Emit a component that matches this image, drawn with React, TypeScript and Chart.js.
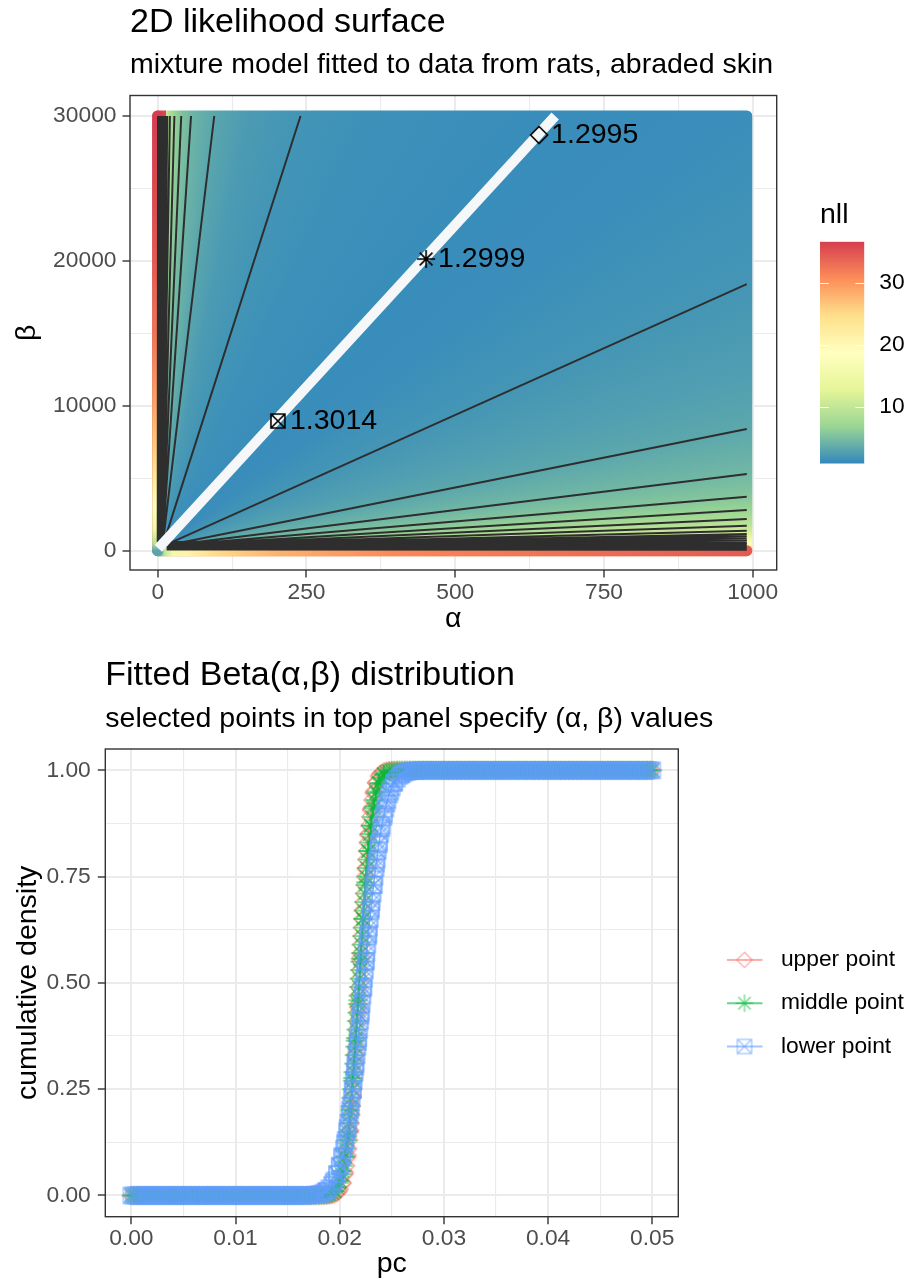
import React, { useEffect, useRef } from "react";
import { Chart, registerables } from "chart.js";

Chart.register(...registerables);

const FONT = '"Liberation Sans", Arial, Helvetica, sans-serif';
Chart.defaults.font.family = FONT;

// ---------------- texts ----------------
const topTitle = "2D likelihood surface";
const topSubtitle = "mixture model fitted to data from rats, abraded skin";
const bottomTitle = "Fitted Beta(α,β) distribution";
const bottomSubtitle = "selected points in top panel specify (α, β) values";

// ---------------- top panel data ----------------
const alphaTicks = [0, 250, 500, 750, 1000];
const alphaMinorTicks = [125, 375, 625, 875];
const betaTicks = [0, 10000, 20000, 30000];
const betaMinorTicks = [5000, 15000, 25000];
const alphaLimits = [-46.6, 1040.3];
const betaLimits = [-1332, 31415];

// extent of the evaluated (alpha, beta) grid
const gridAlpha = [0, 990];
const gridBeta = [0, 30000];

// nll read along rays from the origin (ratio beta / alpha)
const rayRatio = [100000, 30000, 10000, 5000, 3000, 2000, 1400, 1000, 750, 530, 316, 200, 125, 80, 45, 30, 18.4, 12, 8.4, 5.3, 3.7, 2.8, 2.2, 1.74, 1.39, 1.16, 1.0, 0.75, 0.535, 0.38, 0.27, 0.17, 0.1, 0.05];
const rayNll = [36, 30, 22, 16, 12.5, 10, 8, 6.5, 5.4, 4.3, 3.1, 2.3, 1.8, 1.4, 1.2, 1.3, 1.9, 2.6, 3.3, 4.5, 5.7, 7, 8.3, 9.6, 10.9, 12.1, 13.2, 15.6, 18, 20.5, 22.9, 25.3, 27.7, 30];

// nll along the alpha = 0 edge and along the beta = 0 edge
const leftEdgeBeta = [0, 500, 1500, 3000, 5000, 7000, 10000, 15000, 20000, 25000, 30000];
const leftEdgeNll = [3, 9, 15, 19, 23, 26, 29, 32.5, 34.5, 35.8, 36.6];
const bottomEdgeAlpha = [0, 5, 12, 25, 50, 100, 200, 400, 700, 990];
const bottomEdgeNll = [2, 5, 10, 16, 21, 25, 28, 31, 33, 34.5];

// contour lines
const contourHub = [8, 300];
const upperContourEndAlpha = [240, 95, 56, 39.5, 28, 20.5];
const lowerContourEndBeta = [18400, 8400, 5290, 3730, 2810, 2190, 1725, 1380, 1150];
const leftBandBeta = [600, 30000];
const leftBandStartAlpha = [9, 8.2, 7.4, 6.6, 5.8, 5, 4.2, 3.4, 2.6, 1.8, 1, 0.5, 0];
const leftBandEndAlpha = [16, 13.5, 11.5, 9.8, 8.3, 7, 5.8, 4.8, 3.9, 3, 2.1, 1.2, 0.5];
const bottomBandAlpha = [15, 990];
const bottomBandStartBeta = [600, 560, 520, 480, 440, 400, 360, 320, 280, 240, 200, 160, 120, 80];
const bottomBandEndBeta = [1000, 860, 740, 630, 530, 450, 380, 320, 265, 215, 170, 130, 95, 60];

// ridge of the surface
const ridgeAlpha = [1, 668];
const ridgeBeta = [166, 30000];

// selected points
const pickAlpha = [641, 451, 202];
const pickBeta = [28690, 20130, 8950];
const pickLabel = ["1.2995", "1.2999", "1.3014"];

// colour scale
const nllPalette = ["#3288BD", "#99D594", "#E6F598", "#FFFFBF", "#FEE08B", "#FC8D59", "#D53E4F"];
const nllLimits = [0.8, 36.6];
const nllTicks = [10, 20, 30];

// ---------------- bottom panel data ----------------
const pcTicks = [0, 0.01, 0.02, 0.03, 0.04, 0.05];
const pcMinorTicks = [0.005, 0.015, 0.025, 0.035, 0.045];
const cdfTicks = [0, 0.25, 0.5, 0.75, 1];
const cdfMinorTicks = [0.125, 0.375, 0.625, 0.875];
const pcLimits = [-0.0025, 0.0525];
const cdfLimits = [-0.05, 1.05];

const seriesNames = ["upper point", "middle point", "lower point"];

const pcGrid = [
  0, 0.00025, 0.0005, 0.00075, 0.001, 0.00125, 0.0015, 0.00175,
  0.002, 0.00225, 0.0025, 0.00275, 0.003, 0.00325, 0.0035, 0.00375,
  0.004, 0.00425, 0.0045, 0.00475, 0.005, 0.00525, 0.0055, 0.00575,
  0.006, 0.00625, 0.0065, 0.00675, 0.007, 0.00725, 0.0075, 0.00775,
  0.008, 0.00825, 0.0085, 0.00875, 0.009, 0.00925, 0.0095, 0.00975,
  0.01, 0.01025, 0.0105, 0.01075, 0.011, 0.01125, 0.0115, 0.01175,
  0.012, 0.01225, 0.0125, 0.01275, 0.013, 0.01325, 0.0135, 0.01375,
  0.014, 0.01425, 0.0145, 0.01475, 0.015, 0.01525, 0.0155, 0.01575,
  0.016, 0.01625, 0.0165, 0.01675, 0.017, 0.01725, 0.0175, 0.01775,
  0.018, 0.01825, 0.0185, 0.01875, 0.019, 0.01925, 0.0195, 0.01975,
  0.02, 0.02025, 0.0205, 0.02075, 0.021, 0.02125, 0.0215, 0.02175,
  0.022, 0.02225, 0.0225, 0.02275, 0.023, 0.02325, 0.0235, 0.02375,
  0.024, 0.02425, 0.0245, 0.02475, 0.025, 0.02525, 0.0255, 0.02575,
  0.026, 0.02625, 0.0265, 0.02675, 0.027, 0.02725, 0.0275, 0.02775,
  0.028, 0.02825, 0.0285, 0.02875, 0.029, 0.02925, 0.0295, 0.02975,
  0.03, 0.03025, 0.0305, 0.03075, 0.031, 0.03125, 0.0315, 0.03175,
  0.032, 0.03225, 0.0325, 0.03275, 0.033, 0.03325, 0.0335, 0.03375,
  0.034, 0.03425, 0.0345, 0.03475, 0.035, 0.03525, 0.0355, 0.03575,
  0.036, 0.03625, 0.0365, 0.03675, 0.037, 0.03725, 0.0375, 0.03775,
  0.038, 0.03825, 0.0385, 0.03875, 0.039, 0.03925, 0.0395, 0.03975,
  0.04, 0.04025, 0.0405, 0.04075, 0.041, 0.04125, 0.0415, 0.04175,
  0.042, 0.04225, 0.0425, 0.04275, 0.043, 0.04325, 0.0435, 0.04375,
  0.044, 0.04425, 0.0445, 0.04475, 0.045, 0.04525, 0.0455, 0.04575,
  0.046, 0.04625, 0.0465, 0.04675, 0.047, 0.04725, 0.0475, 0.04775,
  0.048, 0.04825, 0.0485, 0.04875, 0.049, 0.04925, 0.0495, 0.04975,
  0.05,
];

const upperCdf = [
  0, 0, 0, 0, 0, 0, 0, 0,
  0, 0, 0, 0, 0, 0, 0, 0,
  0, 0, 0, 0, 0, 0, 0, 0,
  0, 0, 0, 0, 0, 0, 0, 0,
  0, 0, 0, 0, 0, 0, 0, 0,
  0, 0, 0, 0, 0, 0, 0, 0,
  0, 0, 0, 0, 0, 0, 0, 0,
  0, 0, 0, 0, 0, 0, 0, 0,
  0, 0, 0, 0, 0, 0, 0, 0,
  0, 0, 0, 0, 0.0004, 0.0011, 0.0028, 0.0065,
  0.0142, 0.0288, 0.0541, 0.0946, 0.1536, 0.2331, 0.3314, 0.4428,
  0.5592, 0.6704, 0.7683, 0.8475, 0.9063, 0.9464, 0.9715, 0.9859,
  0.9936, 0.9973, 0.9989, 0.9996, 1, 1, 1, 1,
  1, 1, 1, 1, 1, 1, 1, 1,
  1, 1, 1, 1, 1, 1, 1, 1,
  1, 1, 1, 1, 1, 1, 1, 1,
  1, 1, 1, 1, 1, 1, 1, 1,
  1, 1, 1, 1, 1, 1, 1, 1,
  1, 1, 1, 1, 1, 1, 1, 1,
  1, 1, 1, 1, 1, 1, 1, 1,
  1, 1, 1, 1, 1, 1, 1, 1,
  1, 1, 1, 1, 1, 1, 1, 1,
  1, 1, 1, 1, 1, 1, 1, 1,
  1, 1, 1, 1, 1, 1, 1, 1,
  1, 1, 1, 1, 1, 1, 1, 1,
  1,
];

const middleCdf = [
  0, 0, 0, 0, 0, 0, 0, 0,
  0, 0, 0, 0, 0, 0, 0, 0,
  0, 0, 0, 0, 0, 0, 0, 0,
  0, 0, 0, 0, 0, 0, 0, 0,
  0, 0, 0, 0, 0, 0, 0, 0,
  0, 0, 0, 0, 0, 0, 0, 0,
  0, 0, 0, 0, 0, 0, 0, 0,
  0, 0, 0, 0, 0, 0, 0, 0,
  0, 0, 0, 0, 0, 0, 0, 0,
  0, 0.0002, 0.0005, 0.0012, 0.0025, 0.0053, 0.0104, 0.0194,
  0.0344, 0.0576, 0.0918, 0.1392, 0.2007, 0.2763, 0.3639, 0.459,
  0.5565, 0.651, 0.7366, 0.8101, 0.8695, 0.9145, 0.9468, 0.9686,
  0.9824, 0.9906, 0.9953, 0.9978, 0.999, 0.9996, 0.9998, 1,
  1, 1, 1, 1, 1, 1, 1, 1,
  1, 1, 1, 1, 1, 1, 1, 1,
  1, 1, 1, 1, 1, 1, 1, 1,
  1, 1, 1, 1, 1, 1, 1, 1,
  1, 1, 1, 1, 1, 1, 1, 1,
  1, 1, 1, 1, 1, 1, 1, 1,
  1, 1, 1, 1, 1, 1, 1, 1,
  1, 1, 1, 1, 1, 1, 1, 1,
  1, 1, 1, 1, 1, 1, 1, 1,
  1, 1, 1, 1, 1, 1, 1, 1,
  1, 1, 1, 1, 1, 1, 1, 1,
  1, 1, 1, 1, 1, 1, 1, 1,
  1,
];

const lowerCdf = [
  0, 0, 0, 0, 0, 0, 0, 0,
  0, 0, 0, 0, 0, 0, 0, 0,
  0, 0, 0, 0, 0, 0, 0, 0,
  0, 0, 0, 0, 0, 0, 0, 0,
  0, 0, 0, 0, 0, 0, 0, 0,
  0, 0, 0, 0, 0, 0, 0, 0,
  0, 0, 0, 0, 0, 0, 0, 0,
  0, 0, 0, 0, 0, 0, 0, 0,
  0, 0, 0, 0.0002, 0.0003, 0.0006, 0.001, 0.0016,
  0.0027, 0.0044, 0.007, 0.0109, 0.0165, 0.0244, 0.0352, 0.0498,
  0.0686, 0.0927, 0.1224, 0.1584, 0.2005, 0.2488, 0.3026, 0.3613,
  0.4231, 0.4872, 0.5513, 0.6145, 0.6744, 0.7304, 0.7808, 0.8256,
  0.8639, 0.8962, 0.9224, 0.9433, 0.9594, 0.9717, 0.9806, 0.9871,
  0.9916, 0.9946, 0.9967, 0.998, 0.9988, 0.9993, 0.9996, 0.9998,
  1, 1, 1, 1, 1, 1, 1, 1,
  1, 1, 1, 1, 1, 1, 1, 1,
  1, 1, 1, 1, 1, 1, 1, 1,
  1, 1, 1, 1, 1, 1, 1, 1,
  1, 1, 1, 1, 1, 1, 1, 1,
  1, 1, 1, 1, 1, 1, 1, 1,
  1, 1, 1, 1, 1, 1, 1, 1,
  1, 1, 1, 1, 1, 1, 1, 1,
  1, 1, 1, 1, 1, 1, 1, 1,
  1, 1, 1, 1, 1, 1, 1, 1,
  1, 1, 1, 1, 1, 1, 1, 1,
  1,
];

// extra points on the steep part: probability levels and the pc where each curve reaches them
const probLevels = [
  0.01, 0.03, 0.05, 0.07, 0.09, 0.11, 0.13, 0.15, 0.17, 0.19,
  0.21, 0.23, 0.25, 0.27, 0.29, 0.31, 0.33, 0.35, 0.37, 0.39,
  0.41, 0.43, 0.45, 0.47, 0.49,
  0.51, 0.53, 0.55, 0.57, 0.59, 0.61, 0.63, 0.65, 0.67, 0.69,
  0.71, 0.73, 0.75, 0.77, 0.79, 0.81, 0.83, 0.85, 0.87, 0.89,
  0.91, 0.93, 0.95, 0.97, 0.99,
];
const upperQuantile = [
  0.01988, 0.02027, 0.02047, 0.02061, 0.02073, 0.02082, 0.02091, 0.02099, 0.02106, 0.02112,
  0.02118, 0.02124, 0.0213, 0.02135, 0.0214, 0.02145, 0.0215, 0.02154, 0.02159, 0.02163,
  0.02168, 0.02172, 0.02177, 0.02181, 0.02185,
  0.0219, 0.02194, 0.02198, 0.02202, 0.02207, 0.02211, 0.02216, 0.0222, 0.02225, 0.0223,
  0.02235, 0.0224, 0.02245, 0.02251, 0.02256, 0.02262, 0.02269, 0.02276, 0.02284, 0.02292,
  0.02302, 0.02314, 0.02328, 0.02348, 0.02386,
];
const middleQuantile = [
  0.01948, 0.01994, 0.02018, 0.02035, 0.02049, 0.02061, 0.02071, 0.0208, 0.02088, 0.02096,
  0.02103, 0.0211, 0.02117, 0.02123, 0.02129, 0.02135, 0.02141, 0.02146, 0.02152, 0.02157,
  0.02162, 0.02168, 0.02173, 0.02178, 0.02183,
  0.02188, 0.02193, 0.02198, 0.02203, 0.02209, 0.02214, 0.02219, 0.02225, 0.0223, 0.02236,
  0.02242, 0.02248, 0.02254, 0.02261, 0.02268, 0.02275, 0.02283, 0.02291, 0.023, 0.0231,
  0.02322, 0.02336, 0.02353, 0.02377, 0.02423,
];
const lowerQuantile = [
  0.0187, 0.01939, 0.01975, 0.02002, 0.02022, 0.0204, 0.02056, 0.0207, 0.02082, 0.02094,
  0.02105, 0.02116, 0.02126, 0.02135, 0.02144, 0.02153, 0.02162, 0.0217, 0.02179, 0.02187,
  0.02195, 0.02203, 0.02211, 0.02218, 0.02226,
  0.02234, 0.02242, 0.02249, 0.02257, 0.02265, 0.02273, 0.02281, 0.0229, 0.02298, 0.02307,
  0.02316, 0.02325, 0.02334, 0.02344, 0.02355, 0.02366, 0.02378, 0.0239, 0.02404, 0.0242,
  0.02438, 0.02458, 0.02485, 0.02521, 0.0259,
];

// ---------------- styles ----------------
const SERIES_RGB = ["248,118,109", "0,186,56", "97,156,255"];
const SERIES_MARKER = ["diamond", "star", "box"];
const SERIES_R = [8.5, 9.6, 8];
const TICK_FONT = { size: 22.8, lineHeight: 1 };
const AXIS_TITLE_FONT = { size: 28.5, lineHeight: 1.2 };

// ---------------- helpers ----------------
function rgbOf(hex: string) {
  const n = parseInt(hex.slice(1), 16);
  return [(n >> 16) & 255, (n >> 8) & 255, n & 255];
}
function nllColor(v: number) {
  const [lo, hi] = nllLimits;
  let t = (v - lo) / (hi - lo);
  t = Math.max(0, Math.min(1, t));
  const seg = t * (nllPalette.length - 1);
  const i = Math.min(Math.floor(seg), nllPalette.length - 2);
  const f = seg - i;
  const a = rgbOf(nllPalette[i]);
  const b = rgbOf(nllPalette[i + 1]);
  const c = a.map((v0, k) => Math.round(v0 + (b[k] - v0) * f));
  return `rgb(${c[0]},${c[1]},${c[2]})`;
}
const isIn = (list: number[], v: number) => list.indexOf(v) >= 0;

function strokeMarker(ctx: CanvasRenderingContext2D, kind: string, cx: number, cy: number, r: number) {
  ctx.beginPath();
  if (kind === "diamond") {
    ctx.moveTo(cx, cy - r);
    ctx.lineTo(cx + r, cy);
    ctx.lineTo(cx, cy + r);
    ctx.lineTo(cx - r, cy);
    ctx.closePath();
  } else if (kind === "star") {
    const d = r * Math.SQRT1_2;
    ctx.moveTo(cx - r, cy); ctx.lineTo(cx + r, cy);
    ctx.moveTo(cx, cy - r); ctx.lineTo(cx, cy + r);
    ctx.moveTo(cx - d, cy - d); ctx.lineTo(cx + d, cy + d);
    ctx.moveTo(cx - d, cy + d); ctx.lineTo(cx + d, cy - d);
  } else {
    ctx.rect(cx - r, cy - r, 2 * r, 2 * r);
    ctx.moveTo(cx - r, cy - r); ctx.lineTo(cx + r, cy + r);
    ctx.moveTo(cx - r, cy + r); ctx.lineTo(cx + r, cy - r);
  }
  ctx.stroke();
}
function markerImage(kind: string, color: string, r: number, lw: number) {
  const half = Math.ceil(r + lw + 1);
  const cv = document.createElement("canvas");
  cv.width = half * 2;
  cv.height = half * 2;
  const ctx = cv.getContext("2d") as CanvasRenderingContext2D;
  ctx.strokeStyle = color;
  ctx.lineWidth = lw;
  strokeMarker(ctx, kind, half, half, r);
  return cv;
}
function legendKeyImage(kind: string, markerColor: string, lineColor: string, r: number, width: number, lineLen: number) {
  const h = 24;
  const cv = document.createElement("canvas");
  cv.width = width;
  cv.height = h;
  const ctx = cv.getContext("2d") as CanvasRenderingContext2D;
  ctx.strokeStyle = lineColor;
  ctx.lineWidth = 2;
  ctx.beginPath();
  ctx.moveTo(0, h / 2);
  ctx.lineTo(lineLen, h / 2);
  ctx.stroke();
  ctx.strokeStyle = markerColor;
  ctx.lineWidth = 1.3;
  strokeMarker(ctx, kind, lineLen / 2, h / 2, r);
  return cv;
}

function tickSetter(major: number[], minor: number[]) {
  return (s: any) => {
    s.ticks = [...major, ...minor].sort((a, b) => a - b).map((value) => ({ value }));
  };
}
function gridFor(major: number[]) {
  return {
    color: "#EBEBEB",
    lineWidth: (c: any) => (c.tick && isIn(major, c.tick.value) ? 2 : 1.1),
    tickColor: (c: any) => (c.tick && isIn(major, c.tick.value) ? "#333333" : "rgba(0,0,0,0)"),
    tickLength: 7.5,
    tickWidth: 1.4,
    drawTicks: true,
  };
}
function tickLabels(major: number[], fmt: (v: number) => string, padding: number) {
  return {
    autoSkip: false,
    maxRotation: 0,
    color: "#4D4D4D",
    font: TICK_FONT,
    padding,
    callback: (v: any) => (isIn(major, v) ? fmt(v) : ""),
  };
}

// place the title / subtitle blocks so they start at the panel's left edge
const titleToPanel = {
  id: "titleToPanel",
  afterLayout(chart: any) {
    chart.boxes.forEach((b: any) => {
      if (b && b.options && typeof b.options.text === "string" && b.axis === undefined && b.position === "top") {
        b.left = chart.chartArea.left;
        b.right = chart.width;
        b.width = b.right - b.left;
      }
    });
  },
};

const panelBorder = {
  id: "panelBorder",
  afterDatasetsDraw(chart: any) {
    const { ctx, chartArea: a } = chart;
    ctx.save();
    ctx.strokeStyle = "#333333";
    ctx.lineWidth = 1.4;
    ctx.strokeRect(a.left, a.top, a.right - a.left, a.bottom - a.top);
    ctx.restore();
  },
};

const pickLabels = {
  id: "pickLabels",
  afterDatasetsDraw(chart: any) {
    const { ctx, scales } = chart;
    ctx.save();
    ctx.font = `28.5px ${FONT}`;
    ctx.fillStyle = "#000";
    ctx.textAlign = "left";
    ctx.textBaseline = "middle";
    pickAlpha.forEach((a, i) => {
      ctx.fillText(pickLabel[i], scales.x.getPixelForValue(a) + 12, scales.y.getPixelForValue(pickBeta[i]));
    });
    ctx.restore();
  },
};

const colorbarTicks = {
  id: "colorbarTicks",
  afterDatasetsDraw(chart: any) {
    const { ctx, chartArea: a, scales } = chart;
    const len = (a.right - a.left) / 5;
    ctx.save();
    ctx.strokeStyle = "rgba(255,255,255,0.9)";
    ctx.lineWidth = 1;
    nllTicks.forEach((v) => {
      const py = Math.round(scales.y.getPixelForValue(v)) + 0.5;
      ctx.beginPath();
      ctx.moveTo(a.left, py);
      ctx.lineTo(a.left + len, py);
      ctx.moveTo(a.right - len, py);
      ctx.lineTo(a.right, py);
      ctx.stroke();
    });
    ctx.restore();
  },
};

// conic fill centred on the origin, coloured by nll along each ray
function surfaceFill(c: any) {
  const chart = c.chart;
  const { ctx, chartArea, scales } = chart;
  if (!chartArea || !scales.x || !scales.y) return nllPalette[0];
  const xs = scales.x;
  const ys = scales.y;
  const ox = xs.getPixelForValue(0);
  const oy = ys.getPixelForValue(0);
  const g = ctx.createConicGradient(-Math.PI / 2, ox, oy);
  const dx = xs.getPixelForValue(1000) - ox;
  const stops = rayRatio
    .map((r, i) => {
      const dyUp = oy - ys.getPixelForValue(1000 * r);
      return { t: Math.atan2(dx, dyUp) / (2 * Math.PI), c: nllColor(rayNll[i]) };
    })
    .sort((p, q) => p.t - q.t);
  g.addColorStop(0, stops[0].c);
  stops.forEach((s) => g.addColorStop(s.t, s.c));
  g.addColorStop(0.5, stops[stops.length - 1].c);
  g.addColorStop(1, stops[0].c);
  return g;
}
function leftEdgeStroke(c: any) {
  const { ctx, chartArea, scales } = c.chart;
  if (!chartArea) return nllPalette[0];
  const y0 = scales.y.getPixelForValue(leftEdgeBeta[0]);
  const y1 = scales.y.getPixelForValue(leftEdgeBeta[leftEdgeBeta.length - 1]);
  const g = ctx.createLinearGradient(0, y0, 0, y1);
  const span = leftEdgeBeta[leftEdgeBeta.length - 1] - leftEdgeBeta[0];
  leftEdgeBeta.forEach((b, i) => g.addColorStop((b - leftEdgeBeta[0]) / span, nllColor(leftEdgeNll[i])));
  return g;
}
function bottomEdgeStroke(c: any) {
  const { ctx, chartArea, scales } = c.chart;
  if (!chartArea) return nllPalette[0];
  const x0 = scales.x.getPixelForValue(bottomEdgeAlpha[0]);
  const x1 = scales.x.getPixelForValue(bottomEdgeAlpha[bottomEdgeAlpha.length - 1]);
  const g = ctx.createLinearGradient(x0, 0, x1, 0);
  const span = bottomEdgeAlpha[bottomEdgeAlpha.length - 1] - bottomEdgeAlpha[0];
  bottomEdgeAlpha.forEach((a, i) => g.addColorStop((a - bottomEdgeAlpha[0]) / span, nllColor(bottomEdgeNll[i])));
  return g;
}
function colorbarFill(c: any) {
  const { ctx, chartArea, scales } = c.chart;
  if (!chartArea) return nllPalette[0];
  const y0 = scales.y.getPixelForValue(nllLimits[0]);
  const y1 = scales.y.getPixelForValue(nllLimits[1]);
  const g = ctx.createLinearGradient(0, y0, 0, y1);
  nllPalette.forEach((col, i) => g.addColorStop(i / (nllPalette.length - 1), col));
  return g;
}

function contourPoints() {
  const pts: any[] = [];
  const seg = (a0: number, b0: number, a1: number, b1: number) => {
    pts.push({ x: a0, y: b0 }, { x: a1, y: b1 }, { x: NaN, y: NaN });
  };
  upperContourEndAlpha.forEach((a) => seg(contourHub[0], contourHub[1], a, gridBeta[1]));
  lowerContourEndBeta.forEach((b) => seg(contourHub[0], contourHub[1], gridAlpha[1], b));
  leftBandStartAlpha.forEach((a, i) => seg(a, leftBandBeta[0], leftBandEndAlpha[i], leftBandBeta[1]));
  bottomBandStartBeta.forEach((b, i) => seg(bottomBandAlpha[0], b, bottomBandAlpha[1], bottomBandEndBeta[i]));
  return pts;
}

function curvePoints(gridY: number[], quant: number[]) {
  const pts = pcGrid.map((x, i) => ({ x, y: gridY[i] }));
  quant.forEach((x, i) => pts.push({ x, y: probLevels[i] }));
  pts.sort((p, q) => p.x - q.x);
  return pts;
}

function titleOpts(text: string, size: number, padTop: number, padBottom: number) {
  return {
    display: true,
    text,
    align: "start",
    color: "#000",
    font: { size, weight: "normal", lineHeight: 1.2 },
    padding: { top: padTop, bottom: padBottom },
  };
}

function buildTop(canvas: HTMLCanvasElement) {
  const pickMarkers = [
    markerImage("diamond", "#000", 8.5, 1.6),
    markerImage("star", "#000", 9, 1.6),
    markerImage("box", "#000", 7, 1.6),
  ];
  const corners = [
    { x: gridAlpha[0], y: gridBeta[0] },
    { x: gridAlpha[1], y: gridBeta[0] },
    { x: gridAlpha[1], y: gridBeta[1] },
    { x: gridAlpha[0], y: gridBeta[1] },
    { x: gridAlpha[0], y: gridBeta[0] },
  ];
  return new Chart(canvas, {
    type: "scatter",
    data: {
      datasets: [
        {
          type: "scatter",
          data: pickAlpha.map((a, i) => ({ x: a, y: pickBeta[i] })),
          pointStyle: pickMarkers,
          pointRadius: 5,
          order: 0,
        },
        {
          type: "line",
          data: ridgeAlpha.map((a, i) => ({ x: a, y: ridgeBeta[i] })),
          borderColor: "#F5F7F9",
          borderWidth: 10,
          pointRadius: 0,
          order: 1,
        },
        {
          type: "line",
          data: contourPoints(),
          borderColor: "#2E2E2E",
          borderWidth: 2,
          pointRadius: 0,
          spanGaps: false,
          order: 2,
        },
        {
          type: "line",
          data: [{ x: gridAlpha[0], y: gridBeta[0] }, { x: gridAlpha[0], y: gridBeta[1] }],
          borderColor: leftEdgeStroke,
          borderWidth: 11,
          borderCapStyle: "round",
          pointRadius: 0,
          order: 3,
        },
        {
          type: "line",
          data: [{ x: gridAlpha[0], y: gridBeta[0] }, { x: gridAlpha[1], y: gridBeta[0] }],
          borderColor: bottomEdgeStroke,
          borderWidth: 11,
          borderCapStyle: "round",
          pointRadius: 0,
          order: 3,
        },
        {
          type: "line",
          data: corners,
          fill: "shape",
          backgroundColor: surfaceFill,
          borderColor: surfaceFill,
          borderWidth: 11,
          borderJoinStyle: "round",
          borderCapStyle: "round",
          pointRadius: 0,
          order: 4,
        },
      ],
    } as any,
    options: {
      responsive: false,
      animation: false,
      events: [],
      layout: { padding: { left: 0, right: 23.3, top: 0, bottom: 0 } },
      scales: {
        x: {
          type: "linear",
          position: "bottom",
          min: alphaLimits[0],
          max: alphaLimits[1],
          afterBuildTicks: tickSetter(alphaTicks, alphaMinorTicks),
          afterFit: (s: any) => { s.height = 70; },
          grid: gridFor(alphaTicks),
          border: { display: false },
          ticks: tickLabels(alphaTicks, (v) => String(v), 3.8),
          title: { display: true, text: "α", color: "#000", font: AXIS_TITLE_FONT, padding: { top: 0, bottom: 3.4 } },
        },
        y: {
          type: "linear",
          position: "left",
          min: betaLimits[0],
          max: betaLimits[1],
          afterBuildTicks: tickSetter(betaTicks, betaMinorTicks),
          afterFit: (s: any) => { s.width = 130; },
          grid: gridFor(betaTicks),
          border: { display: false },
          ticks: tickLabels(betaTicks, (v) => String(v), 6),
          title: { display: true, text: "β", color: "#000", font: AXIS_TITLE_FONT, padding: { top: 10.4, bottom: 0 } },
        },
      },
      plugins: {
        legend: { display: false },
        tooltip: { enabled: false },
        title: titleOpts(topTitle, 34, 2.1, 0),
        subtitle: titleOpts(topSubtitle, 28.5, 5.5, 12.9),
      },
    } as any,
    plugins: [titleToPanel, panelBorder, pickLabels],
  });
}

function buildColorbar(canvas: HTMLCanvasElement) {
  return new Chart(canvas, {
    type: "bar",
    data: {
      labels: ["nll"],
      datasets: [
        {
          data: [[nllLimits[0], nllLimits[1]]],
          backgroundColor: colorbarFill,
          borderWidth: 0,
          barPercentage: 1,
          categoryPercentage: 1,
        },
      ],
    } as any,
    options: {
      responsive: false,
      animation: false,
      events: [],
      layout: { padding: { left: 20, right: 0, top: 0, bottom: 25 } },
      scales: {
        x: { display: false },
        y: {
          position: "right",
          min: nllLimits[0],
          max: nllLimits[1],
          afterBuildTicks: (s: any) => { s.ticks = nllTicks.map((value) => ({ value })); },
          afterFit: (s: any) => { s.width = 42.7; },
          grid: { display: false, drawTicks: false },
          border: { display: false },
          ticks: { color: "#000", font: TICK_FONT, padding: 15 },
        },
      },
      plugins: {
        legend: { display: false },
        tooltip: { enabled: false },
        title: { ...titleOpts("nll", 28.5, 7.9, 9.6), fullSize: false },
      },
    } as any,
    plugins: [colorbarTicks],
  });
}

function buildBottom(canvas: HTMLCanvasElement) {
  const gridYs = [upperCdf, middleCdf, lowerCdf];
  const quants = [upperQuantile, middleQuantile, lowerQuantile];
  const datasets = seriesNames.map((name, i) => ({
    type: "line",
    label: name,
    data: curvePoints(gridYs[i], quants[i]),
    borderColor: `rgba(${SERIES_RGB[i]},0.85)`,
    borderWidth: 1.6,
    pointStyle: markerImage(SERIES_MARKER[i], `rgba(${SERIES_RGB[i]},0.7)`, SERIES_R[i], 1.3),
    pointRadius: 3,
    tension: 0,
    order: 2 - i,
  }));
  return new Chart(canvas, {
    type: "scatter",
    data: { datasets } as any,
    options: {
      responsive: false,
      animation: false,
      events: [],
      layout: { padding: { left: 0, right: 81.7, top: 0, bottom: 0 } },
      scales: {
        x: {
          type: "linear",
          position: "bottom",
          min: pcLimits[0],
          max: pcLimits[1],
          afterBuildTicks: tickSetter(pcTicks, pcMinorTicks),
          afterFit: (s: any) => { s.height = 70.3; },
          grid: gridFor(pcTicks),
          border: { display: false },
          ticks: tickLabels(pcTicks, (v) => v.toFixed(2), 3.4),
          title: { display: true, text: "pc", color: "#000", font: AXIS_TITLE_FONT, padding: { top: 0, bottom: 5.4 } },
        },
        y: {
          type: "linear",
          position: "left",
          min: cdfLimits[0],
          max: cdfLimits[1],
          afterBuildTicks: tickSetter(cdfTicks, cdfMinorTicks),
          afterFit: (s: any) => { s.width = 105.3; },
          grid: gridFor(cdfTicks),
          border: { display: false },
          ticks: tickLabels(cdfTicks, (v) => v.toFixed(2), 7),
          title: { display: true, text: "cumulative density", color: "#000", font: AXIS_TITLE_FONT, padding: { top: 10.9, bottom: 0 } },
        },
      },
      plugins: {
        legend: { display: false },
        tooltip: { enabled: false },
        title: titleOpts(bottomTitle, 34, 15.6, 0),
        subtitle: titleOpts(bottomSubtitle, 28.5, 5.5, 12.9),
      },
    } as any,
    plugins: [titleToPanel, panelBorder],
  });
}

function buildLegend(canvas: HTMLCanvasElement) {
  const keys = seriesNames.map((_, i) =>
    legendKeyImage(SERIES_MARKER[i], `rgba(${SERIES_RGB[i]},0.6)`, `rgba(${SERIES_RGB[i]},0.6)`, SERIES_R[i] - 0.8, 43, 36)
  );
  return new Chart(canvas, {
    type: "line",
    data: { labels: [], datasets: [] },
    options: {
      responsive: false,
      animation: false,
      events: [],
      layout: { padding: 0 },
      scales: { x: { display: false }, y: { display: false } },
      plugins: {
        tooltip: { enabled: false },
        legend: {
          display: true,
          position: "left",
          align: "start",
          labels: {
            usePointStyle: true,
            pointStyleWidth: 43,
            padding: 20.5,
            color: "#000",
            font: { size: 22.8 },
            generateLabels: () =>
              seriesNames.map((text, i) => ({
                text,
                pointStyle: keys[i],
                fillStyle: "rgba(0,0,0,0)",
                strokeStyle: "rgba(0,0,0,0)",
                lineWidth: 0,
                hidden: false,
                datasetIndex: i,
              })),
          },
        },
      },
    } as any,
  });
}

export default function App() {
  const topRef = useRef<HTMLCanvasElement>(null);
  const barRef = useRef<HTMLCanvasElement>(null);
  const bottomRef = useRef<HTMLCanvasElement>(null);
  const legendRef = useRef<HTMLCanvasElement>(null);

  useEffect(() => {
    const charts = [
      buildTop(topRef.current as HTMLCanvasElement),
      buildColorbar(barRef.current as HTMLCanvasElement),
      buildBottom(bottomRef.current as HTMLCanvasElement),
      buildLegend(legendRef.current as HTMLCanvasElement),
    ];
    return () => charts.forEach((c) => c.destroy());
  }, []);

  const abs = (left: number, top: number, w: number, h: number): React.CSSProperties => ({
    position: "absolute",
    left,
    top,
    width: w,
    height: h,
  });

  return (
    <div style={{ position: "absolute", left: 0, top: 0, width: 907, height: 1287, background: "#fff", overflow: "hidden" }}>
      <canvas ref={topRef} width={800} height={640} style={abs(0, 0, 800, 640)} />
      <canvas ref={barRef} width={107} height={300} style={abs(800, 190, 107, 300)} />
      <canvas ref={bottomRef} width={760} height={647} style={abs(0, 640, 760, 647)} />
      <canvas ref={legendRef} width={500} height={180} style={abs(706, 928, 500, 180)} />
    </div>
  );
}
